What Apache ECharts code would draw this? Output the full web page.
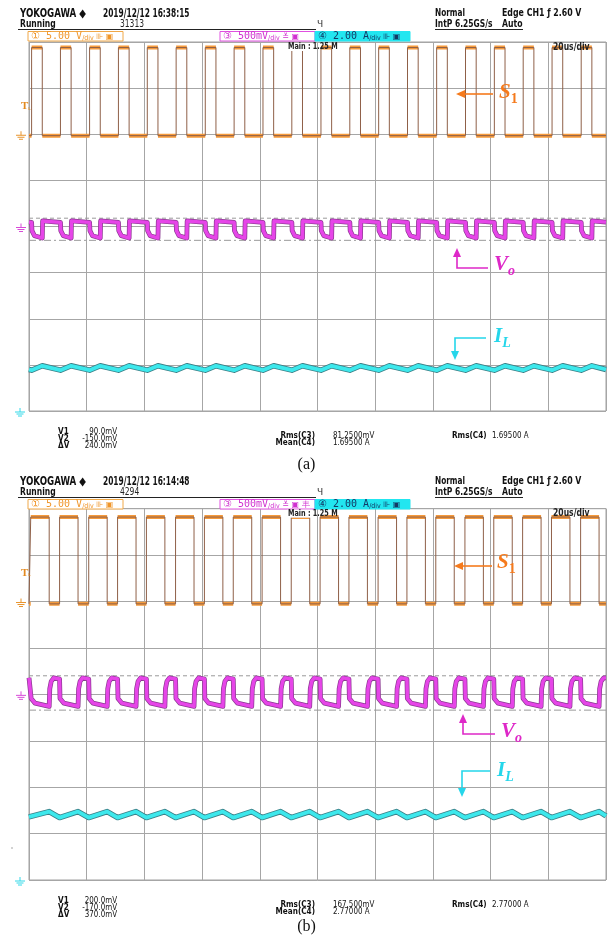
<!DOCTYPE html>
<html>
<head>
<meta charset="utf-8">
<script src="https://cdn.jsdelivr.net/npm/echarts@6/dist/echarts.min.js"></script>
<style>
  html, body { margin: 0; padding: 0; background: #fff; }
  #chart { width: 613px; height: 946px; }
</style>
</head>
<body>
<div id="chart"></div>
<script>
// time axis in us (20 us/div), vertical axis in divisions (0 = bottom, 8 = top)
var timeRange = [0, 200];
var divRange = [0, 8];

// ---------- panel (a) ----------
var aHeader = ['2019/12/12 16:38:15', '31313'];
var aS1Rise = [0.9, 10.9, 21.0, 31.0, 41.0, 51.0, 61.1, 71.1, 81.1, 91.1, 101.2, 111.2, 121.2, 131.2, 141.3, 151.3, 161.3, 171.3, 181.3, 191.4];
var aS1Fall = [4.6, 14.6, 24.7, 34.7, 44.7, 54.7, 64.8, 74.8, 84.8, 94.8, 104.9, 114.9, 124.9, 134.9, 145.0, 155.0, 165.0, 175.0, 185.0, 195.1];
var aS1Level = [-0.15, 9.4];                          // V: low, high
var aVoAfterRise = [[0, 45], [0.12, -45], [1.0, -100]]; // [us after S1 rise, mV]
var aVoAfterFall = [[0, -125], [0.12, 60], [0.8, 48]];  // [us after S1 fall, mV]
var aIlLevel = [1.77, 1.96];                          // A: valley, peak
var aIlEnds = [1.80, 1.80];                           // A at left / right edge
var aCursor = [90, -150];                             // mV: V1, V2
var aCursorText = ['90.0mV', '-150.0mV', '240.0mV'];
var aStatText = ['81.2500mV', '1.69500 A', '1.69500 A'];

// ---------- panel (b) ----------
var bHeader = ['2019/12/12 16:14:48', '4294'];
var bS1Rise = [0.6, 10.6, 20.7, 30.7, 40.7, 50.8, 60.8, 70.8, 80.8, 90.9, 100.9, 110.9, 121.0, 131.0, 141.0, 151.1, 161.1, 171.1, 181.1, 191.2];
var bS1Fall = [7.0, 17.0, 27.1, 37.1, 47.1, 57.2, 67.2, 77.2, 87.2, 97.3, 107.3, 117.3, 127.4, 137.4, 147.4, 157.5, 167.5, 177.5, 187.5, 197.6];
var bS1Level = [-0.25, 9.1];
var bVoAfterRise = [[0, 165], [0.15, -45], [1.5, -95]];
var bVoAfterFall = [[0, -130], [0.2, 60], [0.7, 140], [1.6, 178]];
var bIlLevel = [2.69, 2.95];
var bIlEnds = [2.72, 2.76];
var bCursor = [200, -170];
var bCursorText = ['200.0mV', '-170.0mV', '370.0mV'];
var bStatText = ['167.500mV', '2.77000 A', '2.77000 A'];

// channel scale (per div) and ground position (div)
var s1Scale = 5, voScale = 500, ilScale = 2;
var s1Gnd = 6, voGnd = 4, ilGnd = 0;

var chart = echarts.init(document.getElementById('chart'));

var T0 = timeRange[0], T1 = timeRange[1];

function s1Path(rise, fall, lv) {
  var lo = s1Gnd + lv[0] / s1Scale, hi = s1Gnd + lv[1] / s1Scale;
  var pts = [[T0, lo]];
  for (var i = 0; i < rise.length; i++) {
    pts.push([rise[i], lo], [rise[i], hi], [fall[i], hi], [fall[i], lo]);
  }
  pts.push([T1, lo]);
  return pts;
}
// flat parts only (thick orange band)
function s1Flats(rise, fall, lv) {
  var lo = s1Gnd + lv[0] / s1Scale, hi = s1Gnd + lv[1] / s1Scale;
  var pts = [[T0, lo], [rise[0], lo], [rise[0], '-']];
  for (var i = 0; i < rise.length; i++) {
    var next = i + 1 < rise.length ? rise[i + 1] : T1;
    pts.push([rise[i], hi], [fall[i], hi], [fall[i], '-']);
    pts.push([fall[i], lo], [next, lo], [next, '-']);
  }
  return pts;
}
function voPath(rise, fall, afterRise, afterFall) {
  var last = afterFall[afterFall.length - 1][1];
  var pts = [[T0, voGnd + last / voScale]];
  for (var i = 0; i < rise.length; i++) {
    afterRise.forEach(function (p) { pts.push([rise[i] + p[0], voGnd + p[1] / voScale]); });
    afterFall.forEach(function (p) { pts.push([fall[i] + p[0], voGnd + p[1] / voScale]); });
  }
  pts = pts.filter(function (p) { return p[0] <= T1; });
  pts.push([T1, voGnd + last / voScale]);
  return pts;
}
function ilPath(rise, fall, lv, ends) {
  var pts = [[T0, ilGnd + ends[0] / ilScale]];
  for (var i = 0; i < rise.length; i++) {
    pts.push([rise[i], ilGnd + lv[0] / ilScale], [fall[i], ilGnd + lv[1] / ilScale]);
  }
  pts.push([T1, ilGnd + ends[1] / ilScale]);
  return pts;
}
function cursorLine(v) {
  var y = voGnd + v / voScale;
  return [[T0, y], [T1, y]];
}

function lineSeries(idx, data, color, width, z, dash) {
  return {
    type: 'line', xAxisIndex: idx, yAxisIndex: idx, data: data,
    showSymbol: false, symbol: 'none', silent: true, animation: false, z: z,
    connectNulls: false,
    lineStyle: { color: color, width: width, type: dash || 'solid', join: 'round' }
  };
}

function panelSeries(idx, rise, fall, s1Lv, voR, voF, ilLv, ilEnds, cursor) {
  var vo = voPath(rise, fall, voR, voF);
  var il = ilPath(rise, fall, ilLv, ilEnds);
  return [
    lineSeries(idx, cursorLine(cursor[0]), '#9a9a9a', 1, 2, [4, 3]),
    lineSeries(idx, cursorLine(cursor[1]), '#9a9a9a', 1, 2, [7, 3, 2, 3]),
    lineSeries(idx, il, '#3b8088', 5.5, 3),
    lineSeries(idx, il, '#3de8ec', 3.8, 4),
    lineSeries(idx, vo, '#8a3a90', 4.8, 5),
    lineSeries(idx, vo, '#e645e8', 3.4, 6),
    lineSeries(idx, s1Flats(rise, fall, s1Lv), '#f59a3c', 4, 7),
    lineSeries(idx, s1Path(rise, fall, s1Lv), '#8f6048', 1, 8)
  ];
}

var axisCommon = {
  type: 'value', axisLine: { show: false }, axisTick: { show: false },
  axisLabel: { show: false },
  splitLine: { show: true, lineStyle: { color: '#a6a6a6', width: 1 } }
};
function xAx(i) { return Object.assign({}, axisCommon, { gridIndex: i, min: T0, max: T1, interval: 20 }); }
function yAx(i) { return Object.assign({}, axisCommon, { gridIndex: i, min: divRange[0], max: divRange[1], interval: 1 }); }

// ---------- decorations ----------
var FN = '"Liberation Sans Narrow", "DejaVu Sans Condensed", "Arial Narrow", sans-serif';
var FM = '"DejaVu Sans Mono", "Liberation Mono", monospace';
var g = [];
function txt(x, y, s, font, fill, align, sx, extra) {
  var el = { type: 'text', x: x, y: y, silent: true, z: 100, scaleX: sx || 1,
    style: { text: s, font: font, fill: fill || '#111', align: align || 'left', verticalAlign: 'middle' } };
  if (extra) Object.assign(el.style, extra);
  g.push(el);
}
function ln(x1, y1, x2, y2, color, w) {
  g.push({ type: 'line', silent: true, z: 100, shape: { x1: x1, y1: y1, x2: x2, y2: y2 },
    style: { stroke: color || '#111', lineWidth: w || 1 } });
}
function gnd(x, y, color) {
  ln(x + 4, y - 4, x + 4, y, color, 1);
  ln(x - 1, y, x + 9, y, color, 1);
  ln(x + 0.5, y + 2, x + 7.5, y + 2, color, 1);
  ln(x + 2, y + 4, x + 6, y + 4, color, 1);
}
function arrow(points, tip, dir, color) {
  g.push({ type: 'polyline', silent: true, z: 100, shape: { points: points },
    style: { stroke: color, lineWidth: 1.6, fill: null } });
  var x = tip[0], y = tip[1], h;
  if (dir === 'left') h = [[x, y], [x + 9, y - 4], [x + 9, y + 4]];
  if (dir === 'up') h = [[x, y], [x - 4, y + 9], [x + 4, y + 9]];
  if (dir === 'down') h = [[x, y], [x - 4, y - 9], [x + 4, y - 9]];
  g.push({ type: 'polygon', silent: true, z: 100, shape: { points: h }, style: { fill: color } });
}
function label(x, y, main, sub, color) {
  g.push({ type: 'text', x: x, y: y, silent: true, z: 100, style: {
    text: '{m|' + main + '}{s|' + sub + '}', verticalAlign: 'middle', align: 'left',
    rich: {
      m: { fontFamily: '"Liberation Serif", "DejaVu Serif", serif', fontStyle: 'italic', fontWeight: 'bold', fontSize: 21, fill: color, color: color },
      s: { fontFamily: '"Liberation Serif", "DejaVu Serif", serif', fontStyle: sub === '1' ? 'normal' : 'italic', fontWeight: 'bold', fontSize: 14, fill: color, color: color, padding: [12, 0, 0, 0] }
    } } });
}
function chBox(x, y, w, stroke, fill, tcolor, main, icons) {
  g.push({ type: 'rect', silent: true, z: 99, shape: { x: x, y: y, width: w, height: 9.5 },
    style: { stroke: stroke, fill: fill, lineWidth: 1 } });
  g.push({ type: 'text', x: x + 3, y: y + 5, silent: true, z: 100, style: {
    text: '{a|' + main + '}{s|/div}{i|' + icons + '}', verticalAlign: 'middle', align: 'left',
    rich: {
      a: { fontFamily: FM, fontSize: 10, fill: tcolor, color: tcolor },
      s: { fontFamily: FN, fontSize: 7, fill: tcolor, color: tcolor, padding: [3, 0, 0, 0] },
      i: { fontFamily: '"DejaVu Sans", sans-serif', fontSize: 8, fill: tcolor, color: tcolor }
    } } });
}

function panelDecor(oy, gridTop, gridBottom, header, cursorText, statText, isB) {
  txt(20, 14 + oy, 'YOKOGAWA \u25C6', 'bold 11.5px ' + FN, '#111', 'left', 0.84);
  txt(103, 14 + oy, header[0], 'bold 11.5px ' + FN, '#111', 'left', 0.72);
  txt(20, 24 + oy, 'Running', 'bold 10px ' + FN, '#111', 'left', 0.85);
  ln(18, 29.5 + oy, 316, 29.5 + oy, '#222', 1);
  txt(120, 24 + oy, header[1], '10.5px ' + FN, '#222', 'left', 0.8);
  txt(317, 25 + oy, '\u0427', '9px "DejaVu Sans", sans-serif', '#333');
  txt(435, 13 + oy, 'Normal', 'bold 10.5px ' + FN, '#111', 'left', 0.78);
  txt(435, 24 + oy, 'IntP 6.25GS/s', 'bold 10.5px ' + FN, '#111', 'left', 0.8);
  ln(435, 29.5 + oy, 523, 29.5 + oy, '#222', 1);
  txt(502, 13 + oy, 'Edge CH1 \u0192 2.60 V', 'bold 10.5px ' + FN, '#111', 'left', 0.83);
  txt(502, 24 + oy, 'Auto', 'bold 10.5px ' + FN, '#111', 'left', 0.82);

  chBox(28, 31.5 + oy, 95, '#f0a848', '#fff', '#f0962a', '\u2460 5.00 V', ' \u22AA \u25A3');
  chBox(220, 31.5 + oy, 95, '#e050e0', '#fff', '#d030d0', '\u2462 500mV', ' \u225A \u25A3' + (isB ? ' \u4E30' : ''));
  chBox(315, 31.5 + oy, 95, '#22e6f0', '#22e6f0', '#123a66', '\u2463 2.00 A', ' \u22AA \u25A3');

  g.push({ type: 'rect', silent: true, z: 99, shape: { x: 287, y: gridTop + 1, width: 25, height: 8 }, style: { fill: '#fff' } });
  txt(288, gridTop + 5, 'Main : 1.25 M', 'bold 8.5px ' + FN, '#222', 'left', 0.85);
  txt(553, gridTop + 5, '20us/div', 'bold 10px ' + FN, '#222', 'left', 0.85);

  // channel markers on the left
  txt(21, gridTop + 64, '{t|T}{s|\u029F}', '', '#e38a20', 'left', 1, {
    rich: { t: { fontFamily: '"Liberation Serif", serif', fontWeight: 'bold', fontSize: 11, fill: '#e38a20' },
            s: { fontSize: 6, fill: '#e38a20', padding: [4, 0, 0, 0] } } });
  var dv = (gridBottom - gridTop) / 8;
  gnd(17, gridTop + 2 * dv + 1, '#e8942c');
  gnd(17, gridTop + 4 * dv + 1, '#d84ad8');
  gnd(16, gridBottom + 1, '#30d8e8');

  // measurements
  var M = 'bold 9px ' + FN, V = '9px ' + FN;
  var my = gridBottom + 21;
  txt(58, my, 'V1', M, '#111', 'left', 0.9); txt(117, my, cursorText[0], V, '#111', 'right', 0.88);
  txt(58, my + 7, 'V2', M, '#111', 'left', 0.9); txt(117, my + 7, cursorText[1], V, '#111', 'right', 0.88);
  txt(58, my + 14, '\u0394V', M, '#111', 'left', 0.9); txt(117, my + 14, cursorText[2], V, '#111', 'right', 0.88);
  txt(315, my + 4, 'Rms(C3)', M, '#111', 'right', 0.9); txt(333, my + 4, statText[0], V, '#111', 'left', 0.88);
  txt(315, my + 11, 'Mean(C4)', M, '#111', 'right', 0.9); txt(333, my + 11, statText[1], V, '#111', 'left', 0.88);
  txt(452, my + 4, 'Rms(C4)', M, '#111', 'left', 0.9); txt(492, my + 4, statText[2], V, '#111', 'left', 0.88);
}

var aTop = 42, aBot = 411, bTop = 508.7, bBot = 880;
panelDecor(0, aTop, aBot, aHeader, aCursorText, aStatText, false);
panelDecor(468, bTop, bBot, bHeader, bCursorText, bStatText, true);

txt(306.5, 465, '(a)', '16px "Liberation Serif", "DejaVu Serif", serif', '#111', 'center');
txt(306.5, 927, '(b)', '16px "Liberation Serif", "DejaVu Serif", serif', '#111', 'center');
g.push({ type: 'circle', silent: true, shape: { cx: 12, cy: 848, r: 0.8 }, style: { fill: '#999' } });

// annotations
var cS = '#f57a1c', cV = '#de28c8', cI = '#25d6ea';
arrow([[493, 94], [462, 94]], [456, 94], 'left', cS); label(499, 93, 'S', '1', cS);
arrow([[488, 268], [457, 268], [457, 256]], [457, 248], 'up', cV); label(494, 265, 'V', 'o', cV);
arrow([[486, 338], [455, 338], [455, 352]], [455, 360], 'down', cI); label(494, 337, 'I', 'L', cI);

arrow([[492, 566], [460, 566]], [454, 566], 'left', cS); label(497, 563, 'S', '1', cS);
arrow([[495, 734], [463, 734], [463, 722]], [463, 714], 'up', cV); label(501, 732, 'V', 'o', cV);
arrow([[490, 771], [462, 771], [462, 789]], [462, 797], 'down', cI); label(497, 771, 'I', 'L', cI);

chart.setOption({
  animation: false,
  grid: [
    { left: 29, top: aTop, width: 577, height: aBot - aTop, show: true, borderColor: '#a0a0a0', borderWidth: 1 },
    { left: 29, top: bTop, width: 577, height: bBot - bTop, show: true, borderColor: '#a0a0a0', borderWidth: 1 }
  ],
  xAxis: [xAx(0), xAx(1)],
  yAxis: [yAx(0), yAx(1)],
  series: [].concat(
    panelSeries(0, aS1Rise, aS1Fall, aS1Level, aVoAfterRise, aVoAfterFall, aIlLevel, aIlEnds, aCursor),
    panelSeries(1, bS1Rise, bS1Fall, bS1Level, bVoAfterRise, bVoAfterFall, bIlLevel, bIlEnds, bCursor)
  ),
  graphic: g
});
</script>
</body>
</html>
